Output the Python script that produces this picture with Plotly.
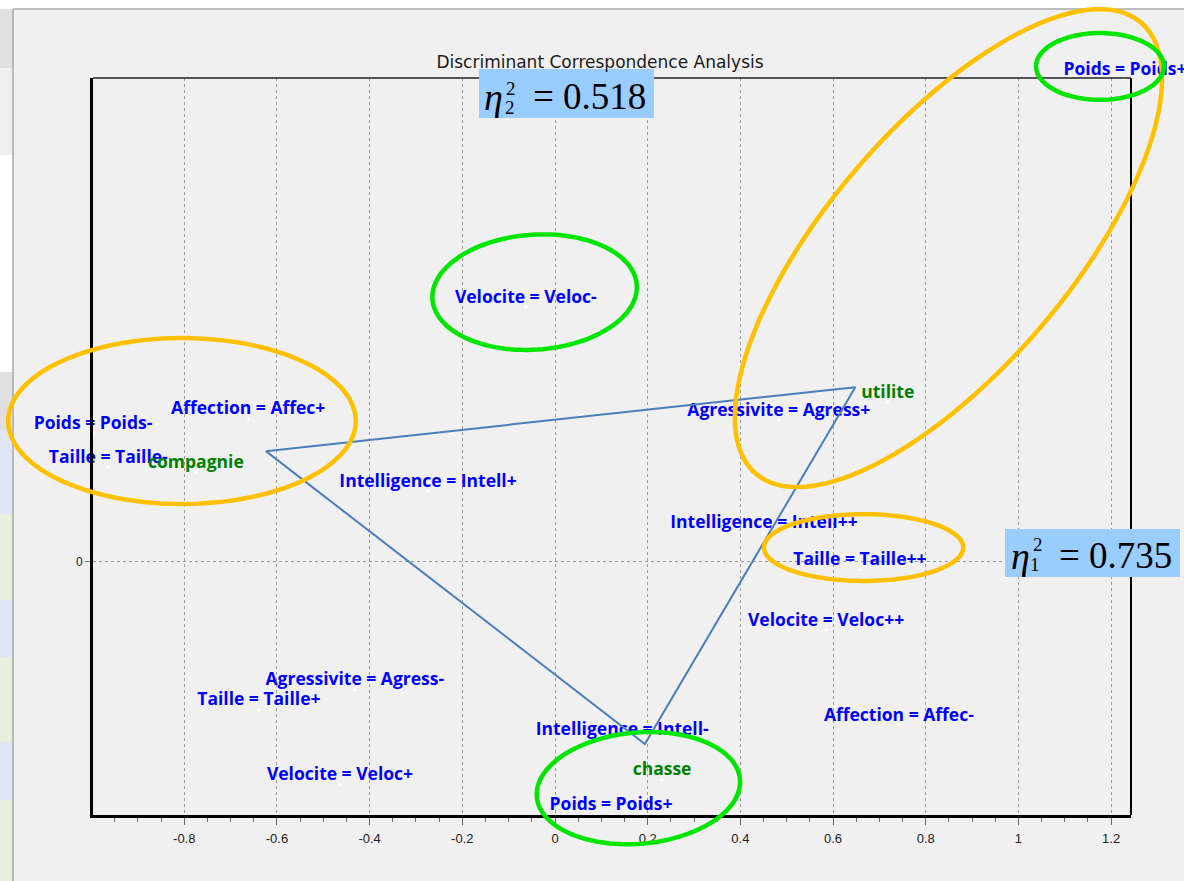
import numpy as np
import plotly.graph_objects as go

# ---------------------------------------------------------------- canvas
FIG_W, FIG_H = 1184, 881
M_L, M_R, M_T, M_B = 93, 53, 78, 66
X_RANGE = [-0.997, 1.243]
Y_RANGE = [-0.546, 1.044]

# ---------------------------------------------------------------- data
# modalities of the descriptive variables (factor 1, factor 2)
mod_labels = [
    "Poids = Poids+", "Velocite = Veloc-", "Affection = Affec+", "Poids = Poids-",
    "Taille = Taille-", "Intelligence = Intell+", "Agressivite = Agress+",
    "Intelligence = Intell++", "Taille = Taille++", "Velocite = Veloc++",
    "Agressivite = Agress-", "Taille = Taille+", "Affection = Affec-",
    "Intelligence = Intell-", "Velocite = Veloc+", "Poids = Poids+",
]
mod_x = [1.230, -0.063, -0.662, -0.997, -0.964, -0.274, 0.483,
         0.451, 0.658, 0.585, -0.432, -0.639, 0.742, 0.145, -0.464, 0.121]
mod_y = [1.042, 0.550, 0.309, 0.278, 0.205, 0.153, 0.306,
         0.063, -0.017, -0.147, -0.276, -0.319, -0.352, -0.382, -0.481, -0.545]

# groups (dog functions)
grp_labels = ["compagnie", "utilite", "chasse"]
grp_x = [-0.775, 0.718, 0.231]
grp_y = [0.194, 0.345, -0.470]

# triangle joining the three groups
tri_x = [-0.624, 0.648, 0.194, -0.624]
tri_y = [0.239, 0.377, -0.393, 0.239]

# highlighted clusters: centre, semi-axes, rotation (deg), colour
ORANGE = "rgb(255,192,0)"
GREEN = "rgb(0,230,0)"
ell_cx = [-0.805, 0.849, 0.666, 1.176, -0.044, 0.180]
ell_cy = [0.304, 0.677, 0.031, 1.069, 0.582, -0.488]
ell_a = [0.375, 0.640, 0.215, 0.138, 0.221, 0.220]
ell_b = [0.179, 0.262, 0.072, 0.072, 0.124, 0.120]
ell_rot = [0, 49.5, 0, 0, 4, 5]
ell_color = [ORANGE, ORANGE, ORANGE, GREEN, GREEN, GREEN]

# squared correlation ratios of the two factors
eta_values = ["0.735", "0.518"]

x_tickvals = [-0.8, -0.6, -0.4, -0.2, 0, 0.2, 0.4, 0.6, 0.8, 1, 1.2]
x_ticktext = ["-0.8", "-0.6", "-0.4", "-0.2", "0", "0.2", "0.4", "0.6", "0.8", "1", "1.2"]

# ---------------------------------------------------------------- helpers
PLOT_W = FIG_W - M_L - M_R
PLOT_H = FIG_H - M_T - M_B


def dx_to_paper(x):
    return (np.asarray(x) - X_RANGE[0]) / (X_RANGE[1] - X_RANGE[0])


def dy_to_paper(y):
    return (np.asarray(y) - Y_RANGE[0]) / (Y_RANGE[1] - Y_RANGE[0])


def px_to_paper(px, py):
    return (px - M_L) / PLOT_W, (FIG_H - M_B - py) / PLOT_H


def ellipse_path(cx, cy, a, b, rot_deg, n=120):
    t = np.linspace(0, 2 * np.pi, n)
    r = np.deg2rad(rot_deg)
    ex = cx + a * np.cos(t) * np.cos(r) - b * np.sin(t) * np.sin(r)
    ey = cy + a * np.cos(t) * np.sin(r) + b * np.sin(t) * np.cos(r)
    px, py = dx_to_paper(ex), dy_to_paper(ey)
    pts = [f"{u:.5f},{v:.5f}" for u, v in zip(px, py)]
    return "M " + " L ".join(pts) + " Z"


def rect_px(x0, y0, x1, y1, fill, layer="below"):
    a0, b0 = px_to_paper(x0, y0)
    a1, b1 = px_to_paper(x1, y1)
    return dict(type="rect", xref="paper", yref="paper", x0=a0, y0=b0, x1=a1, y1=b1,
                fillcolor=fill, line=dict(width=0), layer=layer)


def line_px(x0, y0, x1, y1, color, width, layer="below"):
    a0, b0 = px_to_paper(x0, y0)
    a1, b1 = px_to_paper(x1, y1)
    return dict(type="line", xref="paper", yref="paper", x0=a0, y0=b0, x1=a1, y1=b1,
                line=dict(color=color, width=width), layer=layer)


# ---------------------------------------------------------------- figure
fig = go.Figure()

LABEL_FONT = "Open Sans"
LABEL_SIZE = 17.5


def point_layer(xs, ys, labels, color):
    # tiny white point marks
    fig.add_trace(go.Scatter(
        x=xs, y=ys, mode="markers", marker=dict(size=3, color="white"),
        text=labels, hoverinfo="text", showlegend=False, cliponaxis=False,
    ))
    # their labels, sitting right on top of each point
    fig.add_trace(go.Scatter(
        x=xs, y=ys, mode="text", text=labels,
        textposition="top center", cliponaxis=False,
        textfont=dict(family=LABEL_FONT, size=LABEL_SIZE, color=color, weight="bold"),
        hoverinfo="skip", showlegend=False,
    ))


point_layer(mod_x, mod_y, mod_labels, "#0000FF")
point_layer(grp_x, grp_y, grp_labels, "#008000")

fig.add_trace(go.Scatter(
    x=tri_x, y=tri_y, mode="lines",
    line=dict(color="#4A7EBB", width=2), hoverinfo="skip", showlegend=False,
))

shapes = []
# window chrome around the chart
shapes.append(rect_px(0, 0, FIG_W, 9, "white"))
strip = [(9, 68, "#e0e0e0"), (68, 155, "#efefef"), (155, 372, "#ffffff"),
         (372, 430, "#e0e0e0"), (430, 515, "#e1e6f7"), (515, 600, "#e9efdd"),
         (600, 657, "#e1e6f7"), (657, 742, "#e9efdd"), (742, 800, "#e1e6f7"),
         (800, FIG_H, "#e9efdd")]
for y0, y1, c in strip:
    shapes.append(rect_px(0, y0, 13, y1, c))
shapes.append(line_px(13, 9, FIG_W, 9, "#a8a8a8", 1.5))
shapes.append(line_px(13, 9, 13, FIG_H, "#a8a8a8", 1.5))

# plot frame: thin top / right, heavy left / bottom
shapes.append(line_px(M_L, M_T, FIG_W - M_R, M_T, "#202020", 1.5, "above"))
shapes.append(line_px(FIG_W - M_R, M_T, FIG_W - M_R, FIG_H - M_B, "#000000", 2, "above"))

# boxes behind the eta annotations
shapes.append(rect_px(479, 69, 654, 118, "#99CCFF", "above"))
shapes.append(rect_px(1005, 529, 1180, 577, "#99CCFF", "above"))

# cluster outlines
for cx, cy, a, b, rot, col in zip(ell_cx, ell_cy, ell_a, ell_b, ell_rot, ell_color):
    shapes.append(dict(type="path", xref="paper", yref="paper",
                       path=ellipse_path(cx, cy, a, b, rot),
                       line=dict(color=col, width=4.5), layer="above"))

annotations = []
SERIF = "Liberation Serif"


def ann_px(px, py, text, size, italic=False):
    ax, ay = px_to_paper(px, py)
    return dict(xref="paper", yref="paper", x=ax, y=ay, text=text, showarrow=False,
                xanchor="center", yanchor="middle",
                font=dict(family=SERIF, size=size, color="black",
                          style="italic" if italic else "normal"))


# eta_2^2 (second factor), top box
annotations += [
    ann_px(493, 97, "η", 38, True),
    ann_px(511, 88, "2", 19),
    ann_px(510, 107, "2", 19),
    ann_px(589, 96, "= " + eta_values[1], 37),
]
# eta_1^2 (first factor), right box
annotations += [
    ann_px(1020, 556, "η", 38, True),
    ann_px(1038, 544, "2", 19),
    ann_px(1035, 564, "1", 19),
    ann_px(1115, 555, "= " + eta_values[0], 37),
]

fig.update_layout(
    width=FIG_W, height=FIG_H,
    margin=dict(l=M_L, r=M_R, t=M_T, b=M_B, pad=0),
    paper_bgcolor="#f0f0f0", plot_bgcolor="#f0f0f0",
    title=dict(text="Discriminant Correspondence Analysis",
               x=600 / FIG_W, xref="container", xanchor="center",
               y=1 - 62 / FIG_H, yref="container", yanchor="middle",
               font=dict(family="DejaVu Sans", size=17, color="#1a1a1a")),
    shapes=shapes, annotations=annotations,
    xaxis=dict(range=X_RANGE, tickvals=x_tickvals, ticktext=x_ticktext,
               showgrid=True, gridcolor="#9a9a9a", griddash="dot", gridwidth=1,
               zeroline=False, showline=True, linecolor="black", linewidth=3,
               ticks="outside", ticklen=7, tickcolor="#666", tickwidth=1,
               minor=dict(dtick=0.05, tick0=0, ticks="outside", ticklen=4,
                          tickcolor="#666", showgrid=False),
               ticklabelstandoff=2,
               tickfont=dict(family="Liberation Sans", size=13, color="#222"),
               fixedrange=True),
    yaxis=dict(range=Y_RANGE, tickvals=[0], ticktext=["0"],
               showgrid=True, gridcolor="#9a9a9a", griddash="dot", gridwidth=1,
               zeroline=False, showline=True, linecolor="black", linewidth=3,
               ticks="outside", ticklen=5, tickcolor="#777", tickwidth=1,
               tickfont=dict(family="Liberation Sans", size=12, color="#222"),
               fixedrange=True),
    showlegend=False,
)

fig.write_html("out.html")
